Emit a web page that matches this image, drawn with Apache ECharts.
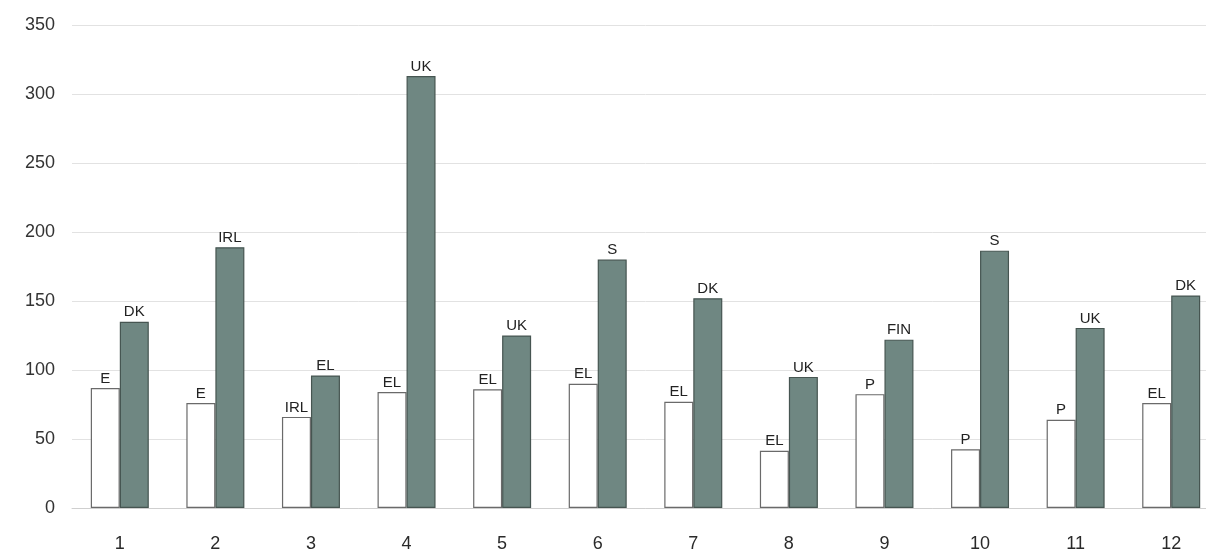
<!DOCTYPE html>
<html>
<head>
<meta charset="utf-8">
<script src="https://cdn.jsdelivr.net/npm/echarts@6/dist/echarts.min.js"></script>
<style>
html,body{margin:0;padding:0;background:#fff;overflow:hidden;width:1206px;height:553px;}
#chart{width:1219px;height:553px;}
</style>
</head>
<body>
<div id="chart"></div>
<script>
const categories = ['1','2','3','4','5','6','7','8','9','10','11','12'];
const lowValues  = [87, 76, 66, 84, 86, 90, 77, 41.5, 82.5, 42.5, 64, 76];
const lowLabels  = ['E','E','IRL','EL','EL','EL','EL','EL','P','P','P','EL'];
const highValues = [135, 189, 96, 313, 125, 180, 152, 95, 122, 186.5, 130.5, 154];
const highLabels = ['DK','IRL','EL','UK','UK','S','DK','UK','FIN','S','UK','DK'];
const yTicks = [0, 50, 100, 150, 200, 250, 300, 350];

const font = '"Liberation Sans", Arial, sans-serif';
const chart = echarts.init(document.getElementById('chart'), null, {renderer:'canvas'});
chart.setOption({
  animation:false,
  backgroundColor:'#ffffff',
  grid:{left:72, right:0, top:25, bottom:45, containLabel:false},
  xAxis:{
    type:'category',
    data:categories,
    axisLine:{show:true, lineStyle:{color:'#cfcfcf', width:1}},
    axisTick:{show:false},
    axisLabel:{color:'#2a2a2a', fontFamily:font, fontSize:18, margin:27}
  },
  yAxis:{
    type:'value',
    min:yTicks[0], max:yTicks[yTicks.length-1], interval:50,
    axisLine:{show:false},
    axisTick:{show:false},
    splitLine:{lineStyle:{color:'#e2e2e2', width:1}},
    axisLabel:{color:'#333', fontFamily:font, fontSize:18, margin:17}
  },
  series:[
    {
      type:'bar',
      data:lowValues,
      barWidth:29,
      barGap:'0%',
      itemStyle:{color:'#ffffff', borderColor:'#6a6a6a', borderWidth:1.2},
      label:{show:true, position:'top', distance:2, color:'#222', fontFamily:font, fontSize:15,
        formatter:p=>lowLabels[p.dataIndex]}
    },
    {
      type:'bar',
      data:highValues,
      barWidth:29,
      barGap:'0%',
      itemStyle:{color:'#6f8782', borderColor:'#465551', borderWidth:1.2},
      label:{show:true, position:'top', distance:2, color:'#222', fontFamily:font, fontSize:15,
        formatter:p=>highLabels[p.dataIndex]}
    }
  ]
});
</script>
</body>
</html>
